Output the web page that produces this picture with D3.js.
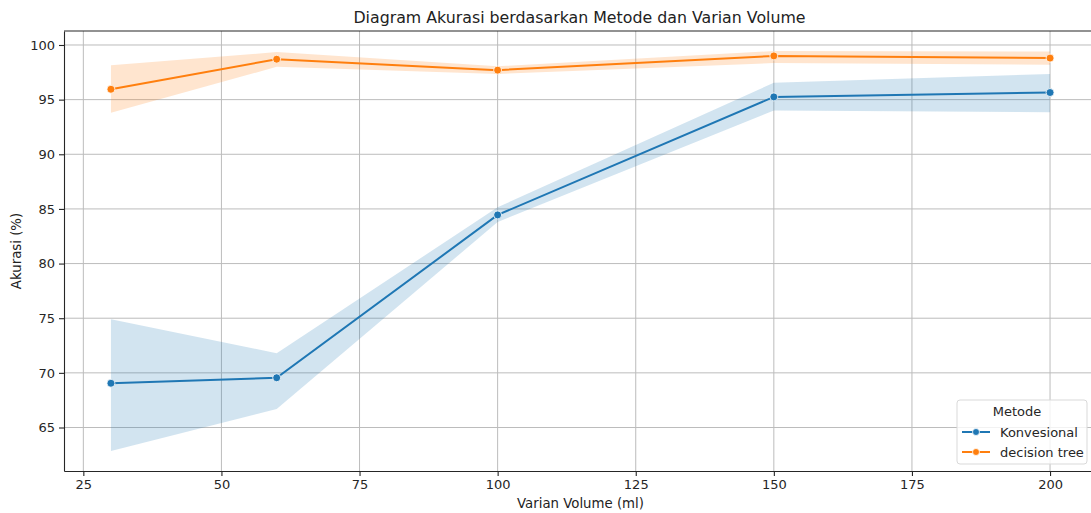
<!DOCTYPE html>
<html>
<head>
<meta charset="utf-8">
<script src="https://cdn.jsdelivr.net/npm/d3@7"></script>
<style>
  body { margin: 0; background: #fff; }
  svg { font-family: "DejaVu Sans", sans-serif; }
</style>
</head>
<body>
<svg id="chart" width="1091" height="513"></svg>
<script>
// data
const volumes = [30, 60, 100, 150, 200];
const konvesional = [69.05, 69.55, 84.45, 95.25, 95.65];
const konvesionalLow = [62.85, 66.7, 83.8, 94.0, 93.85];
const konvesionalHigh = [74.9, 71.8, 85.15, 96.55, 97.35];
const decisionTree = [95.95, 98.7, 97.7, 99.0, 98.8];
const decisionTreeLow = [93.8, 98.0, 97.35, 98.35, 98.2];
const decisionTreeHigh = [98.15, 99.35, 98.05, 99.45, 99.4];
const xTicks = [25, 50, 75, 100, 125, 150, 175, 200];
const yTicks = [65, 70, 75, 80, 85, 90, 95, 100];

const series = [
  {name: "Konvesional", color: "#1f77b4", mean: konvesional, lo: konvesionalLow, hi: konvesionalHigh},
  {name: "decision tree", color: "#ff7f0e", mean: decisionTree, lo: decisionTreeLow, hi: decisionTreeHigh}
];

const svg = d3.select("#chart");
const margin = {left: 64, top: 31, right: 1097, bottom: 471};

// matplotlib-style 5% padding
const xmin = d3.min(volumes), xmax = d3.max(volumes);
const xpad = (xmax - xmin) * 0.05;
const ymin = d3.min(konvesionalLow), ymax = d3.max(decisionTreeHigh);
const ypad = (ymax - ymin) * 0.05;

const x = d3.scaleLinear().domain([xmin - xpad, xmax + xpad]).range([margin.left, margin.right]);
const y = d3.scaleLinear().domain([ymin - ypad, ymax + ypad]).range([margin.bottom, margin.top]);

// grid
const grid = svg.append("g");
grid.selectAll("line.gx").data(xTicks).enter().append("line")
    .attr("x1", d => x(d)).attr("x2", d => x(d))
    .attr("y1", margin.top).attr("y2", margin.bottom)
    .attr("stroke", "#bcbcbc").attr("stroke-width", 1);
grid.selectAll("line.gy").data(yTicks).enter().append("line")
    .attr("y1", d => y(d)).attr("y2", d => y(d))
    .attr("x1", margin.left).attr("x2", margin.right)
    .attr("stroke", "#bcbcbc").attr("stroke-width", 1);

// bands and lines
const area = d3.area()
    .x((d, i) => x(volumes[i]))
    .y0(d => y(d[0]))
    .y1(d => y(d[1]));
const line = d3.line()
    .x((d, i) => x(volumes[i]))
    .y(d => y(d));

series.forEach(s => {
  const band = s.lo.map((v, i) => [v, s.hi[i]]);
  svg.append("path").datum(band)
      .attr("d", area)
      .attr("fill", s.color).attr("fill-opacity", 0.2);
});
series.forEach(s => {
  svg.append("path").datum(s.mean)
      .attr("d", line)
      .attr("fill", "none").attr("stroke", s.color).attr("stroke-width", 2);
  svg.append("g").selectAll("circle").data(s.mean).enter().append("circle")
      .attr("cx", (d, i) => x(volumes[i]))
      .attr("cy", d => y(d))
      .attr("r", 4)
      .attr("fill", s.color).attr("stroke", "#fff").attr("stroke-width", 0.8);
});

// axes
const xAxis = svg.append("g")
    .attr("transform", `translate(0,${margin.bottom})`)
    .call(d3.axisBottom(x).tickValues(xTicks).tickSizeInner(5).tickSizeOuter(0).tickPadding(4));
const yAxis = svg.append("g")
    .attr("transform", `translate(${margin.left},0)`)
    .call(d3.axisLeft(y).tickValues(yTicks).tickSizeInner(5).tickSizeOuter(0).tickPadding(4));
[xAxis, yAxis].forEach(a => {
  a.selectAll("text").attr("font-size", 13).attr("fill", "#262626")
      .attr("font-family", "DejaVu Sans");
  a.selectAll("line").attr("stroke", "#262626").attr("stroke-width", 1.1);
  a.select(".domain").attr("stroke", "#262626").attr("stroke-width", 1.1);
});
// top spine
svg.append("line")
    .attr("x1", margin.left).attr("x2", margin.right)
    .attr("y1", margin.top).attr("y2", margin.top)
    .attr("stroke", "#262626").attr("stroke-width", 1.1);

// titles
svg.append("text")
    .attr("x", (margin.left + margin.right) / 2 - 1).attr("y", 23)
    .attr("text-anchor", "middle").attr("font-size", 15.8).attr("fill", "#222")
    .text("Diagram Akurasi berdasarkan Metode dan Varian Volume");
svg.append("text")
    .attr("x", (margin.left + margin.right) / 2).attr("y", 508)
    .attr("text-anchor", "middle").attr("font-size", 13.3).attr("fill", "#222")
    .text("Varian Volume (ml)");
svg.append("text")
    .attr("transform", `translate(21,${(margin.top + margin.bottom) / 2}) rotate(-90)`)
    .attr("text-anchor", "middle").attr("font-size", 13.3).attr("fill", "#222")
    .text("Akurasi (%)");

// legend
const lg = svg.append("g").attr("transform", "translate(957,400)");
lg.append("rect")
    .attr("width", 130).attr("height", 64).attr("rx", 3)
    .attr("fill", "#fff").attr("fill-opacity", 0.8)
    .attr("stroke", "#d9d9d9");
lg.append("text").attr("x", 60).attr("y", 16)
    .attr("text-anchor", "middle").attr("font-size", 13).attr("fill", "#262626")
    .text("Metode");
series.forEach((s, i) => {
  const gy = 32 + i * 20;
  lg.append("line").attr("x1", 5).attr("x2", 33).attr("y1", gy).attr("y2", gy)
      .attr("stroke", s.color).attr("stroke-width", 2);
  lg.append("circle").attr("cx", 19).attr("cy", gy).attr("r", 3.5)
      .attr("fill", s.color).attr("stroke", "#fff").attr("stroke-width", 0.8);
  lg.append("text").attr("x", 43).attr("y", gy + 4.5)
      .attr("font-size", 13).attr("fill", "#262626").text(s.name);
});
</script>
</body>
</html>
